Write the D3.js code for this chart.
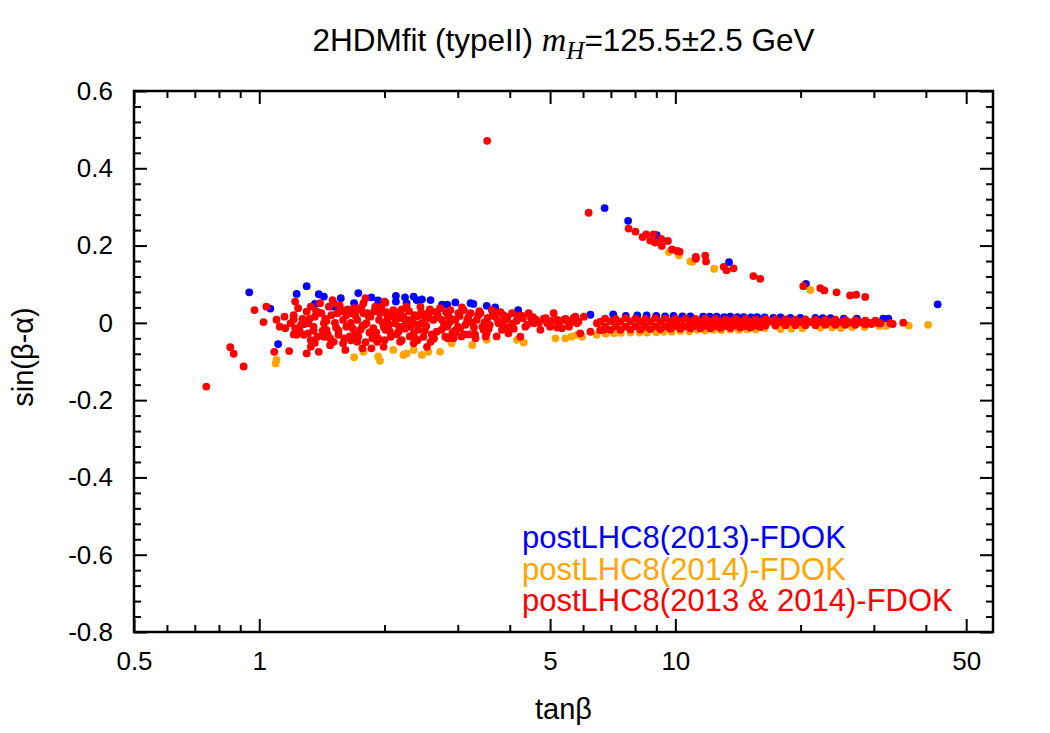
<!DOCTYPE html>
<html><head><meta charset="utf-8">
<script src="https://cdn.jsdelivr.net/npm/d3@7"></script>
<style>body{margin:0;background:#fff}svg{display:block}</style>
</head><body>
<svg id="c" width="1050" height="733"></svg>
<script>
// ---- data (tanβ, sin(β-α)) ----
const blueX = [0.946,1.30,1.23,1.39,1.43,1.063,1.11,1.57,1.73,1.86,1.93,1.36,1.28,1.69,1.51,
 2.13,2.24,2.35,2.39,2.46,2.58,2.75,2.83,2.96,3.22,3.27,3.52,3.69,4.19,2.13,2.26,
 6.25,7.09,7.6,8.1,8.53,9.00,9.45,9.90,10.4,10.87,11.66,12.1,12.57,13.1,13.56,14.1,14.60,15.2,15.72,16.4,17.2,17.9,18.9,19.98,21.7,22.6,23.6,25.4,27.3,31.6,32.5,42.7,
 6.76,7.70,9.02,13.46,20.6];
const blueY = [0.079,0.095,0.075,0.074,0.068,0.037,-0.055,0.064,0.077,0.066,0.058,0.049,-0.003,0.051,0.042,
 0.070,0.066,0.068,0.059,0.061,0.059,0.047,0.047,0.053,0.051,0.049,0.044,0.040,0.033,0.055,0.051,
 0.021,0.022,0.018,0.019,0.019,0.018,0.017,0.018,0.017,0.017,0.016,0.016,0.016,0.015,0.016,0.015,0.015,0.014,0.015,0.014,0.013,0.014,0.013,0.013,0.013,0.012,0.012,0.011,0.011,0.011,0.011,0.048,
 0.297,0.264,0.227,0.157,0.101];

const orangeX = [1.10,1.095,1.69,1.78,1.93,1.95,2.10,2.22,2.26,2.35,2.46,2.55,2.72,2.90,3.25,3.52,4.16,4.32,5.15,5.44,5.63,5.80,
 5.97,6.47,7.11,7.80,8.55,9.38,10.28,11.28,12.36,13.56,14.88,16.4,17.9,20.2,22.3,23.8,26.6,28.5,30.9,32.1,36.4,40.5,
 6.8,7.4,8.2,9.0,9.8,10.8,11.8,12.9,14.2,15.6,19.0,25.0,
 9.65,10.2,10.87,11.0,12.4,21.1];
const orangeY = [-0.096,-0.105,-0.089,-0.075,-0.087,-0.098,-0.070,-0.083,-0.079,-0.070,-0.083,-0.075,-0.075,-0.053,-0.057,-0.044,-0.044,-0.051,-0.040,-0.040,-0.036,-0.031,
 -0.036,-0.031,-0.027,-0.025,-0.025,-0.023,-0.021,-0.018,-0.018,-0.017,-0.017,-0.014,-0.016,-0.014,-0.012,-0.012,-0.011,-0.011,-0.008,-0.008,-0.007,-0.005,
 -0.028,-0.026,-0.025,-0.024,-0.023,-0.022,-0.020,-0.019,-0.018,-0.017,-0.015,-0.013,
 0.183,0.175,0.159,0.158,0.140,0.085];

const redX = [
 // upper branch
 3.53,6.19,7.72,8.02,8.34,8.51,8.86,8.70,8.94,9.25,9.28,9.60,9.82,10.1,10.24,11.2,11.2,11.8,11.85,13.07,13.27,13.8,15.4,16.0,20.3,22.3,22.8,24.4,26.3,27.2,28.6,
 // low tanβ
 0.746,0.852,0.868,0.917,0.974,1.04,1.024,1.087,1.18,1.22,1.24,1.10,1.15,1.12,1.155,1.19,1.21,1.22,1.21,1.23,1.28,1.31,1.33,1.30,1.39,
 1.30,1.33,1.36,1.40,1.41,1.43,1.31,1.35,1.38,1.43,1.45,1.47,1.50,1.51,1.54,1.58,1.59,1.62,1.51,1.55,1.59,1.61,
 1.655,1.69,1.72,1.75,1.70,1.78,1.80,1.78,1.81,1.85,1.88,1.90,1.92,1.86,1.77,1.72,1.94,1.97,1.99,2.01,2.03,
 2.00,1.95,2.03,2.01,2.07,1.99,2.10,2.12,2.16,2.18,2.22,2.26,2.31,2.35,2.35,2.39,2.44,2.46,2.48,2.53,2.55,2.58,2.62,2.67,
 2.72,2.75,2.80,2.83,2.88,2.91,2.96,3.01,3.04,3.10,3.16,3.22,3.31,3.33,3.40,3.46,3.52,3.62,3.69,3.76,3.83,3.90,3.97,4.05,
 4.16,4.24,4.36,4.44,4.57,4.74,4.92,5.10,5.20,5.34,5.53,5.69,5.85,
 2.15,2.28,2.41,2.51,2.65,2.85,2.96,3.13,3.54,3.80,
 1.25,1.27,1.33,1.37,1.45,1.48,1.53,1.56,1.62,1.65,1.68,1.74,1.77,1.83,1.87,1.91,1.96,2.05,2.08,2.14,2.19,2.24,2.29,2.33,2.37,2.43,2.50,2.57,2.60,2.69,2.78,2.86,2.93,3.00,3.07,3.19,3.25,3.36,3.44,3.58,3.66,3.72,3.86,3.93,4.09,4.20,4.30,4.50,4.62,4.82,5.0,5.25,5.45,
 1.21,1.26,1.29,1.32,1.35,1.38,1.42,1.44,1.46,1.49,1.52,1.55,1.57,1.60,1.63,1.66,1.70,1.73,1.76,1.79,1.82,1.84,1.89,1.93,1.98,2.02,2.06,2.11,2.17,2.20,2.25,2.30,2.36,2.40,2.45,2.52,2.56,2.63,2.68,2.74,2.81,2.89,2.95,3.03,3.11,3.18,3.28,3.38,3.48,3.56,3.64,3.75,3.85,3.95,4.05,4.15,4.28,4.40,4.55,4.70,4.88,5.05,5.2,5.4,5.55,1.36,1.48,1.66,1.80,2.00,2.20,2.40,2.62,2.84,3.06,3.30,3.50,
 5.75,6.03,5.80,5.63,5.91,6.25,6.48,6.73,
 // dense band
 6.78,7.18,7.59,8.02,8.47,8.95,9.46,10.0,10.57,11.17,11.81,12.48,13.19,13.94,14.73,15.57,16.46,17.40,18.39,19.43,20.54,21.71,22.94,24.25,25.63,27.09,28.63,30.26,
 6.60,6.98,7.38,7.80,8.24,8.71,9.20,9.73,10.28,10.87,11.48,12.14,12.83,13.56,14.33,15.15,16.01,16.92,17.88,18.90,19.98,21.11,22.31,23.58,24.93,26.34,27.84,29.43,31.10,32.87,
 6.78,7.18,7.59,8.02,8.47,8.95,9.46,10.0,10.57,11.17,11.81,12.48,13.19,13.94,14.73,15.57,16.46,17.40,18.39,19.43,20.54,21.71,22.94,24.25,25.63,27.09,28.63,
 6.60,6.98,7.38,7.80,8.24,8.71,9.20,9.73,10.28,10.87,11.48,12.14,12.83,13.56,14.33,15.15,16.01,
 29.6,30.8,33.3,35.3];
const redY = [
 0.471,0.285,0.244,0.236,0.222,0.229,0.229,0.213,0.208,0.217,0.199,0.212,0.190,0.186,0.184,0.171,0.166,0.174,0.159,0.145,0.136,0.141,0.121,0.114,0.095,0.090,0.084,0.079,0.071,0.073,0.067,
 -0.165,-0.063,-0.080,-0.113,0.033,0.042,0.002,-0.075,-0.073,0.055,0.038,0.008,0.016,-0.010,-0.014,-0.001,0.009,-0.014,-0.030,-0.031,-0.031,-0.027,-0.062,-0.079,-0.075,
 0.029,0.042,0.016,0.051,0.025,-0.001,-0.001,-0.010,-0.036,-0.036,-0.018,0.042,0.059,0.051,0.025,0.033,0.0075,-0.010,-0.049,-0.031,-0.053,-0.070,
 0.025,0.038,0.0075,-0.018,-0.031,0.051,0.064,0.025,-0.001,0.016,-0.014,0.042,-0.049,-0.066,-0.066,-0.049,0.0075,0.033,-0.010,0.052,0.020,
 0.055,0.025,0.0075,-0.018,-0.036,-0.062,0.033,-0.001,-0.023,-0.049,0.016,0.042,-0.010,-0.027,-0.053,0.016,0.042,-0.001,-0.036,-0.062,0.025,-0.049,0.0075,-0.023,
 0.038,0.0075,-0.036,-0.010,0.033,-0.027,0.0075,0.025,-0.014,0.033,0.0075,0.025,-0.040,0.0075,0.025,-0.018,-0.027,0.033,0.016,-0.001,-0.018,0.0075,-0.027,0.025,
 0.0075,-0.036,-0.010,0.025,-0.001,-0.018,-0.001,0.025,0.0075,-0.014,0.003,0.012,0.003,
 0.028,0.0075,-0.018,0.013,0.028,0.018,-0.024,-0.005,0.013,0.028,
 -0.020,0.010,-0.045,0.030,0.005,-0.040,-0.012,0.045,0.020,-0.035,-0.015,0.035,-0.008,0.018,-0.040,-0.025,0.040,-0.005,0.022,-0.030,0.012,-0.015,0.030,0.005,-0.040,0.020,-0.020,0.035,-0.030,0.015,-0.005,0.000,-0.040,-0.010,0.040,-0.030,0.000,0.020,-0.010,-0.005,0.030,-0.035,0.020,-0.012,-0.015,0.018,0.012,0.012,0.008,0.010,-0.010,-0.005,0.010,
 0.020,-0.005,0.000,0.010,-0.020,0.028,-0.020,0.010,-0.030,0.020,0.000,-0.020,0.030,-0.040,0.035,0.000,0.020,-0.035,0.040,-0.005,0.025,-0.025,0.030,-0.040,0.000,0.028,-0.022,0.015,-0.010,0.035,0.002,-0.035,0.020,-0.005,0.028,-0.008,0.012,-0.040,0.022,-0.018,0.028,0.010,-0.020,0.018,-0.030,0.015,-0.012,0.030,0.002,-0.015,0.020,0.005,-0.008,0.015,-0.002,0.005,0.018,-0.005,0.015,0.000,0.012,0.005,-0.012,0.008,-0.010,-0.052,-0.058,-0.045,-0.050,-0.045,-0.045,-0.045,-0.042,-0.040,-0.035,-0.030,-0.035,
 0.016,0.016,-0.001,0.003,-0.027,-0.023,-0.001,-0.018,
 0.011,0.010,0.012,0.011,0.010,0.012,0.011,0.010,0.011,0.010,0.011,0.010,0.009,0.010,0.010,0.009,0.010,0.009,0.009,0.008,0.009,0.008,0.008,0.008,0.007,0.007,0.006,0.006,
 0.003,0.004,0.003,0.004,0.003,0.004,0.003,0.004,0.003,0.003,0.004,0.003,0.003,0.004,0.003,0.003,0.003,0.003,0.002,0.003,0.002,0.002,0.002,0.002,0.001,0.001,0.001,0.000,-0.001,-0.001,
 -0.010,-0.009,-0.010,-0.009,-0.010,-0.009,-0.009,-0.008,-0.009,-0.008,-0.008,-0.008,-0.008,-0.007,-0.008,-0.007,-0.007,-0.007,-0.006,-0.006,-0.006,-0.006,-0.005,-0.005,-0.005,-0.005,-0.004,
 -0.019,-0.018,-0.018,-0.017,-0.017,-0.016,-0.016,-0.015,-0.015,-0.014,-0.014,-0.014,-0.013,-0.013,-0.012,-0.012,-0.011,
 -0.003,-0.001,-0.003,0.0005];

const xMajorTicks = [0.5, 1, 5, 10, 50];
const xMinorTicks = [0.6,0.7,0.8,0.9,2,3,4,6,7,8,9,20,30,40];
const yMajorTicks = [-0.8,-0.6,-0.4,-0.2,0,0.2,0.4,0.6];
const yMinorTicks = [-0.76,-0.72,-0.68,-0.64,-0.56,-0.52,-0.48,-0.44,-0.36,-0.32,-0.28,-0.24,-0.16,-0.12,-0.08,-0.04,
  0.04,0.08,0.12,0.16,0.24,0.28,0.32,0.36,0.44,0.48,0.52,0.56];
const legendLabels = ["postLHC8(2013)-FDOK","postLHC8(2014)-FDOK","postLHC8(2013 & 2014)-FDOK"];
const colors = ["#0000ff","#ffa500","#ff0000"];

// ---- drawing ----
const svg = d3.select("#c");
const L=134, R=993, T=91, B=632;
const x = d3.scaleLog().domain([0.5, 58]).range([L, R]);
const y = d3.scaleLinear().domain([-0.8, 0.6]).range([B, T]);
const font = "'Liberation Sans', Arial, Helvetica, sans-serif";

const series = [[blueX,blueY,colors[0]],[orangeX,orangeY,colors[1]],[redX,redY,colors[2]]];
series.forEach(([xs,ys,c])=>{
  svg.append("g").selectAll("circle").data(xs.map((v,i)=>[v,ys[i]])).join("circle")
    .attr("cx",d=>x(d[0])).attr("cy",d=>y(d[1])).attr("r",3.9).attr("fill",c);
});

function styleAxis(g){ g.select(".domain").remove(); g.selectAll("line").attr("stroke","#000").attr("stroke-width",2); }
const fmtX = d3.format("");
const fmtY = d => d===0 ? "0" : (d<0 ? "-" : "") + Math.abs(d).toFixed(1);

// bottom
svg.append("g").attr("transform",`translate(0,${B})`)
  .call(d3.axisBottom(x).tickValues(xMajorTicks).tickFormat(fmtX).tickSize(-13).tickPadding(20))
  .call(styleAxis).call(g=>g.selectAll("text").attr("font-family",font).attr("font-size",26).attr("fill","#000"));
svg.append("g").attr("transform",`translate(0,${B})`)
  .call(d3.axisBottom(x).tickValues(xMinorTicks).tickFormat("").tickSize(-7)).call(styleAxis);
// top
svg.append("g").attr("transform",`translate(0,${T})`)
  .call(d3.axisTop(x).tickValues(xMajorTicks).tickFormat("").tickSize(-13)).call(styleAxis);
svg.append("g").attr("transform",`translate(0,${T})`)
  .call(d3.axisTop(x).tickValues(xMinorTicks).tickFormat("").tickSize(-7)).call(styleAxis);
// left
svg.append("g").attr("transform",`translate(${L},0)`)
  .call(d3.axisLeft(y).tickValues(yMajorTicks).tickFormat(fmtY).tickSize(-13).tickPadding(21))
  .call(styleAxis).call(g=>g.selectAll("text").attr("font-family",font).attr("font-size",26).attr("fill","#000"));
svg.append("g").attr("transform",`translate(${L},0)`)
  .call(d3.axisLeft(y).tickValues(yMinorTicks).tickFormat("").tickSize(-7)).call(styleAxis);
// right
svg.append("g").attr("transform",`translate(${R},0)`)
  .call(d3.axisRight(y).tickValues(yMajorTicks).tickFormat("").tickSize(-13)).call(styleAxis);
svg.append("g").attr("transform",`translate(${R},0)`)
  .call(d3.axisRight(y).tickValues(yMinorTicks).tickFormat("").tickSize(-7)).call(styleAxis);

svg.append("rect").attr("x",L).attr("y",T).attr("width",R-L).attr("height",B-T)
  .attr("fill","none").attr("stroke","#000").attr("stroke-width",2.5);

// title
const title = svg.append("text").attr("x",(L+R)/2).attr("y",51).attr("text-anchor","middle")
  .attr("font-family",font).attr("font-size",31.5).attr("fill","#000");
title.append("tspan").text("2HDMfit (typeII) ");
title.append("tspan").attr("font-family","'Liberation Serif','Times New Roman',serif").attr("font-style","italic").attr("font-size",34).text("m");
title.append("tspan").attr("font-family","'Liberation Serif','Times New Roman',serif").attr("font-style","italic").attr("font-size",25).attr("dy",8).text("H");
title.append("tspan").attr("dy",-8).text("=125.5±2.5 GeV");

// axis labels
svg.append("text").attr("x",(L+R)/2).attr("y",719).attr("text-anchor","middle")
  .attr("font-family",font).attr("font-size",29).text("tanβ");
svg.append("text").attr("transform","translate(33,357) rotate(-90)").attr("text-anchor","middle")
  .attr("font-family",font).attr("font-size",29).text("sin(β-α)");

// legend
legendLabels.forEach((t,i)=>{
  svg.append("text").attr("x",522).attr("y",548+i*31.5).attr("font-family",font)
    .attr("font-size",31).attr("fill",colors[i]).text(t);
});
</script>
</body></html>
